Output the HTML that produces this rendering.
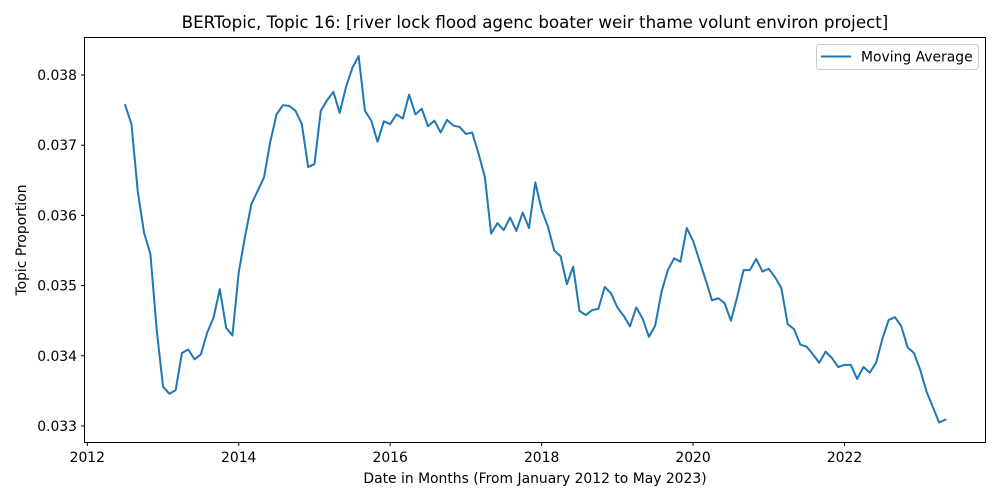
<!DOCTYPE html>
<html><head><meta charset="utf-8"><style>
html,body{margin:0;padding:0;background:#fff;}
svg{display:block;font-family:"DejaVu Sans","Liberation Sans",sans-serif;}
</style></head><body>
<svg id="chart" width="1000" height="500" viewBox="0 0 1000 500" xmlns="http://www.w3.org/2000/svg">
<rect x="0" y="0" width="1000" height="500" fill="#fff"/>
<text x="535" y="28" text-anchor="middle" font-size="16.7">BERTopic, Topic 16: [river lock flood agenc boater weir thame volunt environ project]</text>
<text x="535" y="483" text-anchor="middle" font-size="13.9">Date in Months (From January 2012 to May 2023)</text>
<text transform="translate(26,240) rotate(-90)" text-anchor="middle" font-size="13.9">Topic Proportion</text>
<g id="xticks"></g>
<g id="yticks"></g>
<polyline id="series" fill="none" stroke="#1f77b4" stroke-width="2" stroke-linejoin="round" stroke-linecap="square"/>
<rect x="84.5" y="37.5" width="901" height="405" fill="none" stroke="#000" stroke-width="1"/>
<g>
<rect x="816.5" y="44.5" width="162" height="25" rx="3" fill="#fff" fill-opacity="0.8" stroke="#ccc"/>
<line x1="821" y1="56.5" x2="851" y2="56.5" stroke="#1f77b4" stroke-width="2"/>
<text x="861" y="61.5" font-size="13.9">Moving Average</text>
</g>
</svg>
<script>
const startYear = 2012, startMonth = 7;
const values = [
.03757,.03730,.03634,.03575,.03545,.03437,.03356,.03346,.03351,.03404,.03409,.03395,.03402,.03433,.03454,.03495,.03440,.03429,.03519,.03570,.03616,.03635,.03654,.03705,.03744,.03757,.03756,.03749,.03730,.03669,.03673,.03749,.03764,.03776,.03746,
.03783,.03810,.03827,.03749,.03735,.03705,.03734,.03730,.03744,.03738,.03772,.03744,.03752,.03727,.03735,.03718,.03736,.03728,.03726,.03716,.03718,.03688,.03655,.03574,.03589,.03579,.03597,.03578,.03604,.03582,.03647,.03608,.03584,.03550,.03542,
.03502,.03527,.03464,.03458,.03465,.03467,.03498,.03489,.03469,.03457,.03442,.03469,.03453,.03427,.03443,.03491,.03522,.03539,.03534,.03582,.03564,.03536,.03508,.03479,.03482,.03475,.03450,.03484,.03522,.03522,.03538,.03520,.03524,.03512,.03496,
.03445,.03438,.03416,.03413,.03402,.03390,.03406,.03397,.03384,.03387,.03387,.03367,.03384,.03376,.03390,.03424,.03451,.03455,.03442,.03412,.03404,.03380,.03349,.03327,.03305,.03309
];
const xTickLabels = [2012,2014,2016,2018,2020,2022];
const yTickLabels = [0.033,0.034,0.035,0.036,0.037,0.038];

const NS="http://www.w3.org/2000/svg";
function xScale(yr){ return 87.3 + (yr-2012)*75.72; }
function yScale(v){ return 75 + (0.038 - v)*70200; }

const pts = values.map((v,i)=>{
  const yr = startYear + (startMonth-1+i)/12;
  return xScale(yr).toFixed(2)+","+yScale(v).toFixed(2);
});
document.getElementById('series').setAttribute('points', pts.join(' '));

const xg=document.getElementById('xticks');
xTickLabels.forEach(t=>{
  const x=xScale(t);
  const l=document.createElementNS(NS,'line');
  l.setAttribute('x1',x);l.setAttribute('x2',x);l.setAttribute('y1',442.5);l.setAttribute('y2',446);
  l.setAttribute('stroke','#000');
  
  
  xg.appendChild(l);
  const tx=document.createElementNS(NS,'text');
  tx.setAttribute('x',x);tx.setAttribute('y',462);tx.setAttribute('text-anchor','middle');tx.setAttribute('font-size','13.9');
  tx.textContent=t;
  
  
  xg.appendChild(tx);
});
const yg=document.getElementById('yticks');
yTickLabels.forEach(t=>{
  const y=yScale(t);
  const l=document.createElementNS(NS,'line');
  l.setAttribute('x1',81);l.setAttribute('x2',84.5);l.setAttribute('y1',y);l.setAttribute('y2',y);
  l.setAttribute('stroke','#000');
  
  
  yg.appendChild(l);
  const tx=document.createElementNS(NS,'text');
  tx.setAttribute('x',77);tx.setAttribute('y',y+5);tx.setAttribute('text-anchor','end');tx.setAttribute('font-size','13.9');
  tx.textContent=t.toFixed(3);
  
  
  yg.appendChild(tx);
});
</script>
</body></html>
